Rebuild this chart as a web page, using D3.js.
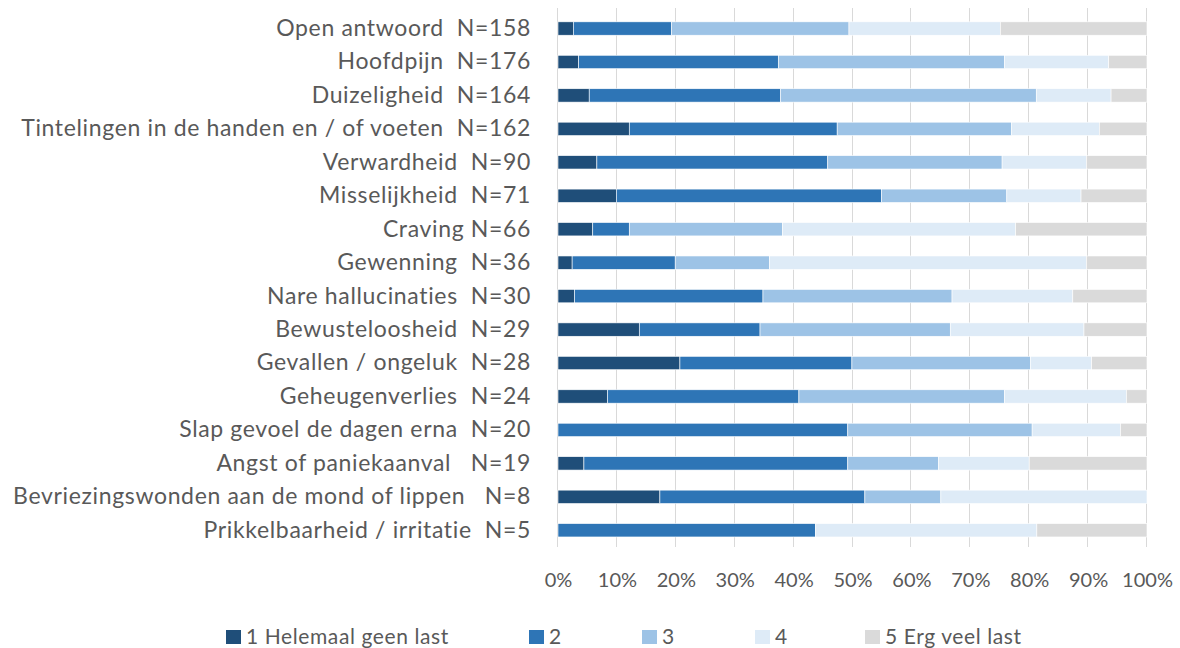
<!DOCTYPE html>
<meta charset="utf-8">
<head>
	<script src="https://d3js.org/d3.v7.min.js"></script>
	<style>
		body {
			margin: 0;
			background: #fff;
			font-family: Lato, sans-serif;
		}
		.label {
			white-space: pre;
		}
		.grid line {
			stroke: #d9d9d9;
			stroke-width: 1.5;
			shape-rendering: crispEdges;
		}
	</style>
</head>

<body>
	<div id="chart"></div>
</body>

<script type="text/javascript">

	var categories = [
		"Open antwoord  N=158",
		"Hoofdpijn  N=176",
		"Duizeligheid  N=164",
		"Tintelingen in de handen en / of voeten  N=162",
		"Verwardheid  N=90",
		"Misselijkheid  N=71",
		"Craving N=66",
		"Gewenning  N=36",
		"Nare hallucinaties  N=30",
		"Bewusteloosheid  N=29",
		"Gevallen / ongeluk  N=28",
		"Geheugenverlies  N=24",
		"Slap gevoel de dagen erna  N=20",
		"Angst of paniekaanval   N=19",
		"Bevriezingswonden aan de mond of lippen   N=8",
		"Prikkelbaarheid / irritatie  N=5"
	];

	var seriesNames = ["1 Helemaal geen last", "2", "3", "4", "5 Erg veel last"];

	var s1 = [2.6, 3.5, 5.3, 12.1, 6.6, 9.9, 5.9, 2.4, 2.8, 13.8, 20.7, 8.4, 0, 4.4, 17.3, 0];
	var s2 = [16.7, 33.9, 32.5, 35.3, 39.2, 45.0, 6.2, 17.5, 32.0, 20.5, 29.2, 32.5, 49.2, 44.8, 34.8, 43.7];
	var s3 = [30.1, 38.4, 43.4, 29.6, 29.6, 21.3, 26.0, 16.0, 32.1, 32.3, 30.3, 34.9, 31.3, 15.4, 12.9, 0];
	var s4 = [25.7, 17.7, 12.7, 14.9, 14.3, 12.6, 39.6, 53.8, 20.5, 22.7, 10.4, 20.7, 15.0, 15.4, 35.0, 37.6];
	var s5 = [24.9, 6.5, 6.1, 8.1, 10.3, 11.2, 22.3, 10.3, 12.6, 10.7, 9.4, 3.5, 4.5, 20.0, 0, 18.7];

	var tickValues = [0, 0.1, 0.2, 0.3, 0.4, 0.5, 0.6, 0.7, 0.8, 0.9, 1];

	var colors = ["#1f4e79", "#2e75b6", "#9dc3e6", "#deebf7", "#dadada"];

	var W = 1180, H = 648;
	var textColor = "#595959";

	var allSeries = [s1, s2, s3, s4, s5];
	var data = categories.map(function(c, i) {
		var row = { group: c };
		seriesNames.forEach(function(k, j) { row[k] = allSeries[j][i]; });
		return row;
	});

	var stack = d3.stack()
		.keys(seriesNames)
		.offset(d3.stackOffsetExpand);
	var layers = stack(data);

	var x = d3.scaleLinear()
		.domain([0, 1])
		.range([558, 1147]);

	var y = d3.scaleBand()
		.domain(categories)
		.range([11.8, 547])
		.paddingInner(0.6)
		.paddingOuter(0.3);

	var svg = d3.select("#chart").append("svg")
		.attr("width", W)
		.attr("height", H);

	// vertical gridlines
	svg.append("g")
		.attr("class", "grid")
		.selectAll("line")
		.data(tickValues)
		.enter().append("line")
		.attr("x1", function(d) { return Math.round(x(d)) - 0.5; })
		.attr("x2", function(d) { return Math.round(x(d)) - 0.5; })
		.attr("y1", 8)
		.attr("y2", 547);

	// bars
	svg.append("g")
		.selectAll("g")
		.data(layers)
		.enter().append("g")
		.style("fill", function(d, i) { return colors[i]; })
		.selectAll("rect")
		.data(function(d) { return d; })
		.enter().append("rect")
		.attr("x", function(d) { return x(d[0]); })
		.attr("width", function(d) { return Math.max(0, x(d[1]) - x(d[0])); })
		.attr("y", function(d) { return y(d.data.group); })
		.attr("height", y.bandwidth())
		.style("stroke", "#fff")
		.style("stroke-width", 0.6);

	// category labels
	var yAxis = d3.axisLeft(y).tickSize(0).tickPadding(0);
	var ya = svg.append("g")
		.attr("transform", "translate(531,0)")
		.call(yAxis);
	ya.select(".domain").remove();
	ya.selectAll("text")
		.attr("class", "label")
		.style("font-family", "Lato, sans-serif")
		.style("font-size", "23px")
		.style("letter-spacing", "0.65px")
		.style("fill", textColor);

	// x axis labels
	var xAxis = d3.axisBottom(x)
		.tickValues(tickValues)
		.tickSize(0)
		.tickPadding(0)
		.tickFormat(d3.format(".0%"));
	var xa = svg.append("g")
		.attr("transform", "translate(0,580)")
		.call(xAxis);
	xa.select(".domain").remove();
	xa.selectAll("text")
		.attr("dy", ".35em")
		.style("font-family", "Lato, sans-serif")
		.style("font-size", "20px")
		.style("fill", textColor);

	// legend
	var legendX = [226, 529, 642, 755, 865];
	var legend = svg.append("g")
		.selectAll("g")
		.data(seriesNames)
		.enter().append("g")
		.attr("transform", function(d, i) { return "translate(" + legendX[i] + ",637)"; });

	legend.append("rect")
		.attr("x", 0)
		.attr("y", -7)
		.attr("width", 15)
		.attr("height", 14)
		.style("fill", function(d, i) { return colors[i]; });

	legend.append("text")
		.attr("x", 20)
		.attr("dy", ".35em")
		.style("font-family", "Lato, sans-serif")
		.style("font-size", "21px")
		.style("letter-spacing", "0.6px")
		.style("fill", textColor)
		.text(function(d) { return d; });
</script>
